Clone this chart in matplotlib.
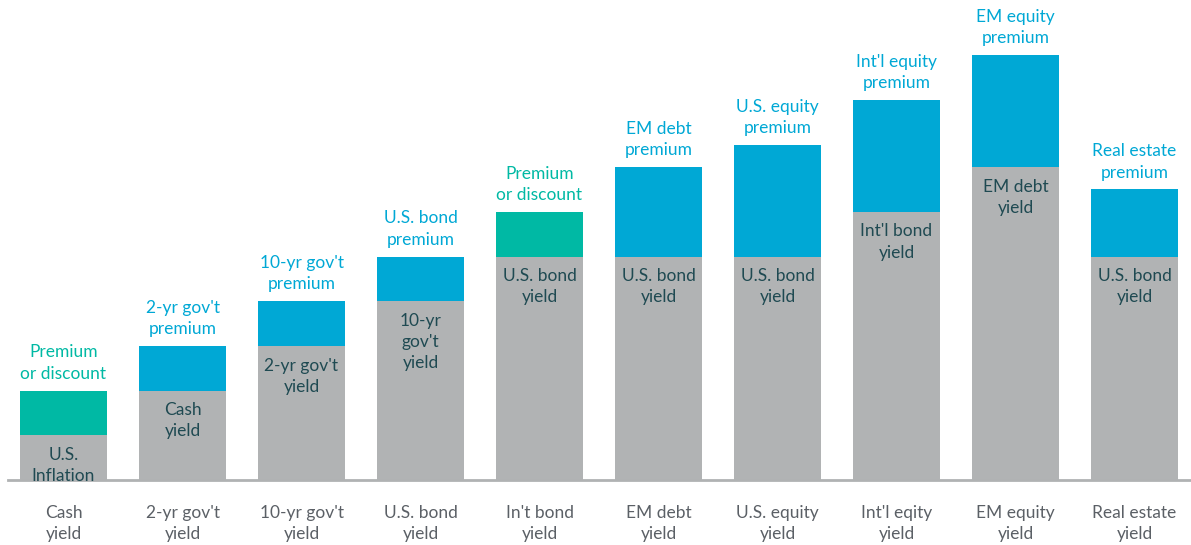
import numpy as np
import matplotlib.pyplot as plt

plt.rcParams['font.family'] = ['Lato', 'DejaVu Sans']

categories = ["Cash\nyield", "2-yr gov't\nyield", "10-yr gov't\nyield", "U.S. bond\nyield",
              "In't bond\nyield", "EM debt\nyield", "U.S. equity\nyield", "Int'l eqity\nyield",
              "EM equity\nyield", "Real estate\nyield"]
base = [1, 2, 3, 4, 5, 5, 5, 6, 7, 5]
premium = [1, 1, 1, 1, 1, 2, 2.5, 2.5, 2.5, 1.5]
base_labels = ["U.S.\nInflation", "Cash\nyield", "2-yr gov't\nyield", "10-yr\ngov't\nyield",
               "U.S. bond\nyield", "U.S. bond\nyield", "U.S. bond\nyield", "Int'l bond\nyield",
               "EM debt\nyield", "U.S. bond\nyield"]
premium_labels = ["Premium\nor discount", "2-yr gov't\npremium", "10-yr gov't\npremium",
                  "U.S. bond\npremium", "Premium\nor discount", "EM debt\npremium",
                  "U.S. equity\npremium", "Int'l equity\npremium", "EM equity\npremium",
                  "Real estate\npremium"]
is_discount = [True, False, False, False, True, False, False, False, False, False]

GRAY = "#b1b3b4"
BLUE = "#00a8d5"
TEAL = "#00b9a4"
DARK = "#1f4a52"
AXIS_TXT = "#5b6066"

fig = plt.figure(figsize=(11.91, 5.45), dpi=100)
ax = fig.add_axes([0, 65 / 545, 1, 480 / 545])
ax.set_axis_off()

x = np.arange(len(categories))
w = 87 / 119
top_colors = [TEAL if d else BLUE for d in is_discount]
ax.bar(x, base, width=w, color=GRAY)
ax.bar(x, premium, width=w, bottom=base, color=top_colors)

ax.set_xlim(-63.5 / 119, (1191 - 63.5) / 119)
ax.set_ylim(0, 480 / 44.7)

ax.axhline(0, xmin=8 / 1191, xmax=1, color="#b0b2b3", lw=2, clip_on=False)

for i in range(len(categories)):
    ax.text(x[i], base[i] - 0.26, base_labels[i], ha="center", va="top",
            fontsize=12.5, color=DARK, linespacing=1.4)
    ax.text(x[i], base[i] + premium[i] + 0.2, premium_labels[i], ha="center", va="bottom",
            fontsize=12.5, color=TEAL if is_discount[i] else BLUE, linespacing=1.4)
    ax.text(x[i], -0.55, categories[i], ha="center", va="top",
            fontsize=12.5, color=AXIS_TXT, linespacing=1.4)

fig.savefig("out.png", dpi=100)
